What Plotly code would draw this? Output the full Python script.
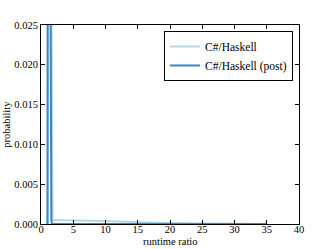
import plotly.graph_objects as go

x_raw = [0.8, 1.0, 1.1, 1.2, 1.3, 1.4, 1.5, 1.6, 1.7, 1.8, 2.0, 3, 5, 8, 10, 15, 20, 25, 30, 35]
p_raw = [0.0, 0.0, 0.0, 0.1, 0.3, 0.2, 0.08, 0.03, 0.008, 0.0004, 0.0005, 0.0005, 0.00045, 0.0004, 0.00035, 0.0002, 0.00012, 0.00006, 0.00003, 0.0]
x_post = [0.8, 1.0, 1.1, 1.2, 1.3, 1.4, 1.5, 1.6, 1.7, 1.8, 2.0, 3, 5, 8, 10, 15, 20, 25, 30, 35]
p_post = [0.0, 0.0, 0.1, 0.5, 0.3, 0.05, 0.008, 0.0005, 0.0, 0.0, 0.0, 0.0, 0.0, 0.0, 0.0, 0.0, 0.0, 0.0, 0.0, 0.0]

light = "#b4d6eb"
dark = "#3a88c2"
font = "Liberation Serif, Times New Roman, serif"

fig = go.Figure()
fig.add_trace(go.Scatter(x=x_raw, y=p_raw, mode="lines", name="C#/Haskell",
                         line=dict(color=light, width=2)))
fig.add_trace(go.Scatter(x=x_post, y=p_post, mode="lines", name="C#/Haskell (post)",
                         line=dict(color=dark, width=2)))

axis_common = dict(showline=True, linecolor="black", linewidth=1, mirror="ticks",
                   ticks="inside", ticklen=4, tickcolor="black", showgrid=False,
                   zeroline=False, automargin=False,
                   tickfont=dict(family=font, size=10.5, color="black"))
fig.update_xaxes(range=[0, 40], dtick=5, tick0=0, ticklabelstandoff=-5, **axis_common)
fig.update_yaxes(range=[0, 0.025], dtick=0.005, tick0=0, tickformat=".3f", **axis_common)
fig.add_annotation(text="runtime ratio", xref="paper", yref="paper", x=0.5, y=-0.09,
                   xanchor="center", yanchor="middle", showarrow=False,
                   font=dict(family=font, size=10.5, color="black"))
fig.add_annotation(text="probability", xref="paper", yref="paper", x=-0.135, y=0.5,
                   xanchor="center", yanchor="middle", showarrow=False, textangle=-90,
                   font=dict(family=font, size=10.5, color="black"))
fig.update_layout(
    width=332, height=249,
    margin=dict(l=41, r=33, t=25, b=25, autoexpand=False),
    paper_bgcolor="white", plot_bgcolor="white",
    font=dict(family=font, size=11, color="black"),
    showlegend=True,
    legend=dict(x=0.977, y=0.97, xanchor="right", yanchor="top",
                bordercolor="black", borderwidth=1, bgcolor="white",
                font=dict(family=font, size=11.5, color="black"),
                tracegroupgap=0, itemwidth=30),
)
fig.write_html("out.html", config={"displayModeBar": False},
               post_script="document.body.style.margin='0';")
